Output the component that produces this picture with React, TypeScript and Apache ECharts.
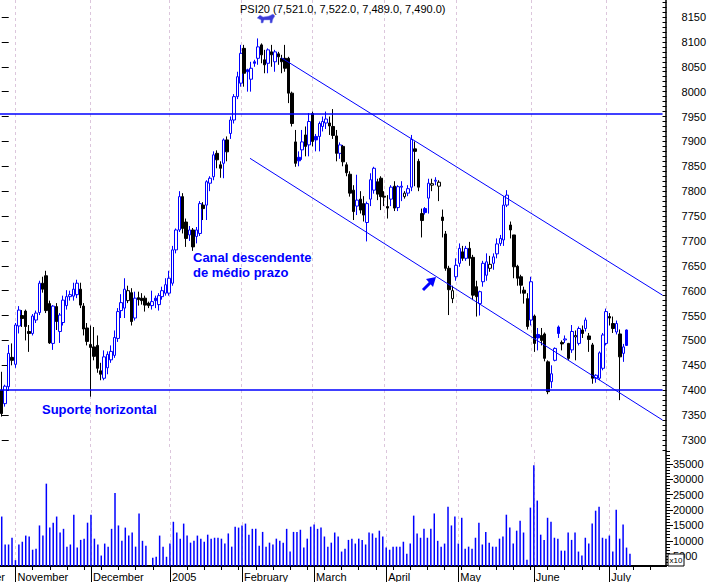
import React, { useEffect, useRef } from 'react';
import * as echarts from 'echarts';

// ---- data ----
const opens = [
  7400, 7373, 7407, 7466, 7452, 7529, 7550, 7559, 7518, 7514, 7541, 7556, 7615, 7630, 7574, 7494, 7568, 7518, 7536, 7570,
  7588, 7589, 7592, 7603, 7569, 7525, 7492, 7487, 7490, 7439, 7424, 7445, 7461, 7470, 7504, 7560, 7565, 7580, 7596, 7545,
  7586, 7585, 7585, 7575, 7570, 7585, 7572, 7588, 7595, 7595, 7615, 7682, 7722, 7789, 7738, 7712, 7722, 7709, 7715, 7772,
  7772, 7816, 7829, 7876, 7853, 7856, 7903, 7916, 7943, 7990, 8017, 8087, 8044, 8025, 8060, 8067, 8094, 8064, 8057, 8080,
  8060, 8076, 8067, 8067, 8067, 7997, 7899, 7868, 7883, 7913, 7893, 7956, 7910, 7910, 7930, 7937, 7937, 7930, 7911, 7876,
  7890, 7853, 7834, 7802, 7770, 7784, 7775, 7737, 7784, 7802, 7819, 7826, 7790, 7769, 7784, 7810, 7767, 7808, 7789, 7796,
  7808, 7885, 7860, 7755, 7765, 7786, 7812, 7820, 7810, 7748, 7714, 7645, 7584, 7628, 7655, 7678, 7665, 7685, 7667, 7608,
  7574, 7618, 7631, 7645, 7655, 7674, 7695, 7702, 7772, 7732, 7712, 7649, 7628, 7601, 7584, 7541, 7549, 7512, 7510, 7513,
  7457, 7417, 7460, 7527, 7496, 7501, 7494, 7481, 7507, 7494, 7521, 7524, 7509, 7491, 7424, 7424, 7444, 7494, 7548, 7534,
  7517, 7513, 7474, 7521,
];
const closes = [
  7353, 7408, 7474, 7460, 7531, 7561, 7544, 7528, 7514, 7549, 7555, 7615, 7603, 7560, 7495, 7569, 7538, 7551, 7581, 7588,
  7592, 7603, 7615, 7571, 7523, 7498, 7486, 7468, 7444, 7432, 7467, 7472, 7478, 7506, 7558, 7576, 7603, 7600, 7538, 7585,
  7582, 7580, 7571, 7570, 7578, 7580, 7590, 7600, 7612, 7625, 7682, 7722, 7789, 7725, 7705, 7722, 7688, 7722, 7775, 7765,
  7819, 7826, 7873, 7863, 7846, 7903, 7879, 7943, 7990, 8030, 8077, 8037, 8040, 8047, 8057, 8090, 8074, 8054, 8084, 8074,
  8080, 8070, 8060, 8047, 7997, 7936, 7856, 7861, 7899, 7890, 7940, 7900, 7903, 7936, 7940, 7945, 7931, 7912, 7876, 7893,
  7859, 7837, 7796, 7759, 7782, 7762, 7752, 7775, 7823, 7846, 7794, 7789, 7788, 7766, 7808, 7766, 7809, 7810, 7796, 7805,
  7904, 7880, 7808, 7741, 7757, 7816, 7815, 7822, 7818, 7741, 7645, 7602, 7600, 7651, 7685, 7665, 7685, 7665, 7591, 7588,
  7598, 7655, 7658, 7653, 7668, 7694, 7705, 7772, 7792, 7722, 7648, 7625, 7611, 7595, 7528, 7618, 7494, 7505, 7500, 7464,
  7397, 7433, 7484, 7514, 7493, 7503, 7464, 7518, 7510, 7524, 7514, 7541, 7502, 7424, 7430, 7475, 7511, 7558, 7545, 7524,
  7534, 7467, 7487, 7490,
];
const lows = [
  7347, 7367, 7400, 7450, 7445, 7514, 7527, 7500, 7477, 7510, 7535, 7551, 7596, 7555, 7493, 7481, 7521, 7495, 7530, 7562,
  7580, 7580, 7585, 7565, 7510, 7490, 7387, 7460, 7435, 7420, 7420, 7432, 7455, 7465, 7497, 7545, 7545, 7575, 7530, 7540,
  7570, 7572, 7558, 7565, 7562, 7565, 7560, 7582, 7590, 7590, 7610, 7675, 7718, 7715, 7688, 7700, 7680, 7695, 7710, 7742,
  7742, 7800, 7822, 7846, 7827, 7826, 7860, 7905, 7936, 7985, 8010, 8010, 8000, 8000, 8050, 8054, 8057, 8037, 8037, 8050,
  8040, 8054, 8037, 8040, 7977, 7930, 7849, 7850, 7863, 7870, 7870, 7890, 7880, 7880, 7920, 7925, 7913, 7905, 7860, 7865,
  7850, 7830, 7789, 7742, 7752, 7755, 7739, 7699, 7770, 7795, 7782, 7762, 7770, 7745, 7770, 7760, 7760, 7780, 7785, 7790,
  7800, 7810, 7800, 7707, 7753, 7755, 7800, 7812, 7780, 7707, 7640, 7551, 7575, 7620, 7648, 7660, 7660, 7650, 7581, 7548,
  7550, 7608, 7620, 7638, 7642, 7665, 7690, 7690, 7768, 7705, 7625, 7610, 7594, 7574, 7522, 7530, 7477, 7480, 7490, 7458,
  7392, 7404, 7458, 7505, 7480, 7495, 7461, 7475, 7460, 7490, 7505, 7518, 7477, 7413, 7415, 7420, 7440, 7490, 7530, 7515,
  7512, 7380, 7457, 7489,
];
const highs = [
  7437, 7411, 7491, 7494, 7535, 7569, 7561, 7562, 7531, 7553, 7560, 7620, 7628, 7640, 7580, 7571, 7575, 7555, 7590, 7601,
  7600, 7616, 7622, 7616, 7575, 7535, 7530, 7527, 7510, 7455, 7480, 7478, 7490, 7520, 7565, 7593, 7625, 7610, 7605, 7598,
  7598, 7595, 7590, 7578, 7600, 7590, 7595, 7608, 7625, 7640, 7690, 7725, 7800, 7796, 7745, 7730, 7726, 7728, 7780, 7778,
  7822, 7830, 7880, 7882, 7860, 7906, 7910, 7950, 7995, 8040, 8094, 8094, 8046, 8060, 8064, 8107, 8097, 8084, 8087, 8094,
  8084, 8080, 8074, 8094, 8070, 8000, 7923, 7880, 7923, 7930, 7957, 7960, 7915, 7940, 7950, 7960, 7950, 7965, 7923, 7898,
  7893, 7858, 7840, 7812, 7833, 7800, 7790, 7779, 7836, 7849, 7825, 7830, 7800, 7792, 7812, 7820, 7812, 7820, 7800, 7812,
  7913, 7900, 7865, 7765, 7768, 7825, 7825, 7828, 7822, 7763, 7720, 7650, 7610, 7665, 7695, 7690, 7690, 7698, 7672, 7620,
  7600, 7660, 7675, 7670, 7675, 7705, 7712, 7790, 7802, 7739, 7712, 7652, 7632, 7608, 7595, 7628, 7552, 7525, 7525, 7516,
  7460, 7450, 7486, 7530, 7500, 7510, 7495, 7531, 7520, 7528, 7530, 7546, 7515, 7495, 7432, 7478, 7515, 7564, 7555, 7548,
  7540, 7522, 7493, 7522,
];
// volume, in the axis' own units (x10)
const volumes = [
  17900, 8800, 8800, 11000, 3700, 8800, 9700, 11700, 11400, 7100, 7400, 15000, 11700, 28600, 14300, 15900, 17900, 12700, 13900, 8100,
  8800, 18500, 7800, 10300, 10700, 15900, 18500, 10700, 8800, 5200, 9100, 8100, 13900, 25600, 15000, 10000, 14300, 11700, 12700, 8100,
  18900, 10000, 8400, 1800, 4500, 4800, 11700, 8100, 4800, 9100, 16200, 12700, 10700, 15600, 11700, 9400, 10000, 11700, 10700, 9700,
  12000, 10700, 11000, 11000, 10700, 9100, 12400, 8100, 14600, 14300, 15000, 15600, 12000, 13900, 13900, 8400, 12900, 8100, 9400, 8800,
  10700, 10000, 9400, 13900, 6500, 12900, 12900, 13600, 7800, 10700, 14600, 15300, 13900, 14300, 11400, 8100, 9400, 12700, 11400, 6500,
  7400, 10300, 10700, 9100, 10700, 10300, 8800, 12700, 12400, 11000, 13300, 11400, 7800, 7100, 8100, 8100, 8100, 9700, 5800, 9100,
  18200, 12400, 11000, 13900, 11000, 13900, 18900, 10000, 8100, 9100, 21100, 15000, 17900, 9100, 17500, 7400, 8100, 7400, 11000, 15900,
  8800, 12900, 9400, 8100, 8100, 10700, 11400, 18500, 14300, 9100, 13300, 16500, 12700, 3800, 20800, 34600, 23100, 12000, 10300, 17500,
  16200, 11000, 10700, 6800, 6800, 12700, 10300, 12700, 6500, 5200, 11000, 9100, 15600, 19800, 21100, 11000, 10700, 11700, 6500, 20100,
  10700, 15300, 7800, 5800,
];
const monthStarts = [4, 26, 49, 70, 91, 112, 133, 155, 177];
const monthLabels = ['November', 'December', '2005', 'February', 'March', 'April', 'May', 'June', 'July'];
const priceTicks = [7300, 7350, 7400, 7450, 7500, 7550, 7600, 7650, 7700, 7750, 7800, 7850, 7900, 7950, 8000, 8050, 8100, 8150];
const volumeTicks = [5000, 10000, 15000, 20000, 25000, 30000, 35000];
const supportLevel = 7400;
const resistanceLevel = 7955;
const upperChannel = [[81.9, 8068], [193.5, 7591]];
const lowerChannel = [[72.7, 7866], [193.5, 7340]];
const slotCount = 194;
const titleText = 'PSI20 (7,521.0, 7,522.0, 7,489.0, 7,490.0)';

const BLUE = '#0000FF';
const FONT = '"Liberation Sans", Arial, Helvetica, sans-serif';

const cats = Array.from({ length: slotCount }, (_, i) => String(i));
const minorPrice: number[] = [];
for (let v = 7280; v <= 8180; v += 10) minorPrice.push(v);
const minorVol: number[] = [];
for (let v = 2000; v <= 39000; v += 1000) minorVol.push(v);
const isMonth = (i: number) => monthStarts.includes(i);
const isWeek = (i: number) => i >= 4 && (i - 4) % 5 === 0;
const plain = (v: number) => String(Math.round(v));

function buildCandles() {
  return opens.map((o, i) => {
    const c = closes[i];
    const prev = i > 0 ? closes[i - 1] : o;
    const col = c >= prev ? BLUE : '#000000';
    const hollow = c > o;
    const fill = hollow ? '#FFFFFF' : col;
    return {
      value: [o, c, lows[i], highs[i]],
      itemStyle: { color: fill, color0: fill, borderColor: col, borderColor0: col, borderWidth: 1 },
    };
  });
}

const bullPath =
  'M0 6 L3 3 L6 5 L12 4 L16 2 L18 4 L16 7 L15 11 L13 11 L13 8 L7 8 L6 11 L4 11 L4 8 Z';

export default function App() {
  const ref = useRef<HTMLDivElement>(null);
  useEffect(() => {
    if (!ref.current) return;
    try {
      echarts.graphic.registerShape('bull', echarts.graphic.extendPath(bullPath, {}));
    } catch (e) {}
    const chart = echarts.init(ref.current, null, { renderer: 'svg' });
    const splitDash = { show: true, interval: (i: number) => isMonth(i), alignWithLabel: true, lineStyle: { color: '#dcc6dc', type: [3, 3], width: 1 } };
    const option: any = {
      animation: false,
      backgroundColor: '#FFFFFF',
      grid: [
        { left: 0, right: 43, top: 0, height: 450 },
        { left: 0, right: 43, top: 450, height: 116 },
      ],
      xAxis: [
        {
          type: 'category', gridIndex: 0, data: cats, boundaryGap: true,
          axisLine: { show: false }, axisTick: { show: false }, axisLabel: { show: false },
          splitLine: splitDash,
        },
        {
          type: 'category', gridIndex: 1, data: cats, boundaryGap: true, position: 'bottom',
          axisLine: { show: true, lineStyle: { color: '#000', width: 2 } },
          axisTick: { show: true, interval: (i: number) => isWeek(i), alignWithLabel: true, length: 4, lineStyle: { color: '#000', width: 1 } },
          axisLabel: {
            show: true, interval: (i: number) => isMonth(i), align: 'left', margin: 5, padding: [0, 0, 0, 2],
            color: '#000', fontSize: 11, fontFamily: FONT,
            formatter: (v: string) => {
              const k = monthStarts.indexOf(Number(v));
              return k >= 0 ? monthLabels[k] : '';
            },
          },
          splitLine: splitDash,
        },
        {
          type: 'category', gridIndex: 1, data: cats, boundaryGap: true, position: 'bottom',
          axisLine: { show: false },
          axisTick: { show: true, interval: (i: number) => isMonth(i), alignWithLabel: true, length: 16, lineStyle: { color: '#000', width: 1 } },
          axisLabel: { show: false }, splitLine: { show: false },
        },
        { type: 'value', gridIndex: 0, min: -0.5, max: slotCount - 0.5, show: false },
      ],
      yAxis: [
        {
          type: 'value', gridIndex: 0, position: 'right', min: 7279.8, max: 8184.2, scale: true,
          axisLine: { show: false }, splitLine: { show: false },
          axisTick: { show: true, customValues: priceTicks, length: 7, lineStyle: { color: '#000' } },
          axisLabel: { show: true, customValues: priceTicks, margin: 19, color: '#000', fontSize: 11, fontFamily: FONT, formatter: plain },
        },
        {
          type: 'value', gridIndex: 0, position: 'right', min: 7279.8, max: 8184.2, scale: true,
          axisLine: { show: false }, splitLine: { show: false },
          axisTick: { show: true, customValues: minorPrice, length: 4, lineStyle: { color: '#000' } },
          axisLabel: { show: false },
        },
        {
          type: 'value', gridIndex: 1, position: 'right', min: 1800, max: 39560, scale: true,
          axisLine: { show: false }, splitLine: { show: false },
          axisTick: { show: true, customValues: volumeTicks, length: 7, lineStyle: { color: '#000' } },
          axisLabel: { show: true, customValues: volumeTicks, margin: 7, color: '#000', fontSize: 11, fontFamily: FONT, formatter: plain },
        },
        {
          type: 'value', gridIndex: 1, position: 'right', min: 1800, max: 39560, scale: true,
          axisLine: { show: false }, splitLine: { show: false },
          axisTick: { show: true, customValues: minorVol, length: 4, lineStyle: { color: '#000' } },
          axisLabel: { show: false },
        },
      ],
      series: [
        {
          type: 'candlestick', xAxisIndex: 0, yAxisIndex: 0, barWidth: 3,
          data: buildCandles(),
          markLine: {
            symbol: 'none', silent: true, label: { show: false },
            lineStyle: { color: BLUE, width: 1.5, type: 'solid' },
            data: [{ yAxis: resistanceLevel }, { yAxis: supportLevel }],
          },
        },
        {
          type: 'line', xAxisIndex: 3, yAxisIndex: 0, data: upperChannel, symbol: 'none', silent: true,
          lineStyle: { color: BLUE, width: 1 },
        },
        {
          type: 'line', xAxisIndex: 3, yAxisIndex: 0, data: lowerChannel, symbol: 'none', silent: true,
          lineStyle: { color: BLUE, width: 1 },
        },
        {
          type: 'bar', xAxisIndex: 1, yAxisIndex: 2, data: volumes, barWidth: 1.5, silent: true,
          itemStyle: { color: BLUE },
        },
      ],
      graphic: [
        { type: 'line', z: 100, shape: { x1: 666, y1: 0, x2: 666, y2: 567 }, style: { stroke: '#000', lineWidth: 1.5 } },
        { type: 'text', z: 100, x: 240, y: 9, style: { text: titleText, fill: '#000', font: `11px ${FONT}`, textVerticalAlign: 'middle' } },
        { type: 'bull', z: 100, x: 257, y: 12, scaleX: 1, scaleY: 1, style: { fill: '#3b3bd8', stroke: '#9aa0f0', lineWidth: 0.5 } },
        { type: 'text', z: 100, x: 193, y: 257, style: { text: 'Canal descendente', fill: BLUE, font: `bold 13px ${FONT}`, textVerticalAlign: 'middle' } },
        { type: 'text', z: 100, x: 193, y: 272, style: { text: 'de médio prazo', fill: BLUE, font: `bold 13px ${FONT}`, textVerticalAlign: 'middle' } },
        { type: 'text', z: 100, x: 42, y: 409, style: { text: 'Suporte horizontal', fill: BLUE, font: `bold 13px ${FONT}`, textVerticalAlign: 'middle' } },
        { type: 'polygon', z: 100, shape: { points: [[436, 277], [426, 279], [433, 287]] }, style: { fill: BLUE } },
        { type: 'line', z: 100, shape: { x1: 431, y1: 282, x2: 423, y2: 290 }, style: { stroke: BLUE, lineWidth: 3 } },
        { type: 'text', z: 100, x: 5, y: 577, style: { text: 'October', fill: '#000', font: `11px ${FONT}`, textAlign: 'right', textVerticalAlign: 'middle' } },
        { type: 'rect', z: 100, shape: { x: 668, y: 554, width: 16, height: 12 }, style: { fill: '#fff', stroke: '#000', lineWidth: 1 } },
        { type: 'text', z: 101, x: 676, y: 560, style: { text: 'x10', fill: '#000', font: `8px ${FONT}`, textAlign: 'center', textVerticalAlign: 'middle' } },
      ],
    };
    chart.setOption(option);
    return () => chart.dispose();
  }, []);
  return (
    <div
      ref={ref}
      style={{ position: 'fixed', left: 0, top: 0, width: 709, height: 582, background: '#fff' }}
    />
  );
}
